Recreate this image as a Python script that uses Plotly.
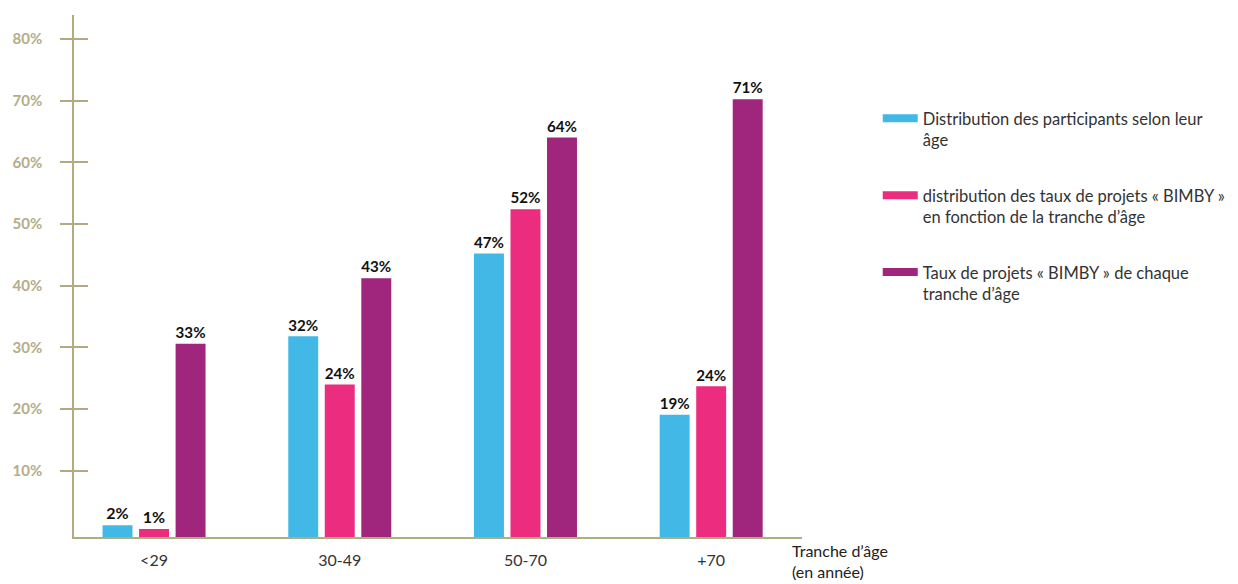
import plotly.graph_objects as go

# ---------- data ----------
age_groups = ["<29", "30-49", "50-70", "+70"]

participants = [1.9, 32.5, 45.9, 19.8]
bimby_share = [1.3, 24.7, 53.1, 24.4]
bimby_rate = [31.3, 41.9, 64.7, 70.9]

# printed labels
participants_txt = ["2%", "32%", "47%", "19%"]
bimby_share_txt = ["1%", "24%", "52%", "24%"]
bimby_rate_txt = ["33%", "43%", "64%", "71%"]

# the source draws its gridmarks slightly above the baseline
tick_shift = 0.7
tick_vals = [10 * k + tick_shift for k in range(1, 9)]
tick_text = [f"{10 * k}%" for k in range(1, 9)]

names = [
    "Distribution des participants selon leur<br>âge",
    "distribution des taux de projets « BIMBY »<br>en fonction de la tranche d’âge",
    "Taux de projets « BIMBY » de chaque<br>tranche d’âge",
]

colors = ["#41B8E6", "#EC2C7E", "#A0257C"]
FONT = "Lato, 'Open Sans', sans-serif"
AXIS_COL = "#B3AA84"
TICK_COL = "#B3AD88"

fig = go.Figure()

for vals, txt, col in zip([participants, bimby_share, bimby_rate],
                          [participants_txt, bimby_share_txt, bimby_rate_txt],
                          colors):
    fig.add_trace(go.Bar(
        x=age_groups, y=vals, text=txt,
        textposition="outside", cliponaxis=False,
        textfont=dict(family=FONT, size=16, color="#111", weight="bold"),
        marker=dict(color=col, line=dict(width=0)),
        showlegend=False, hoverinfo="skip",
    ))

# legend entries (wide flat swatches)
for i, (nm, col) in enumerate(zip(names, colors)):
    fig.add_trace(go.Scatter(
        x=[None], y=[None], mode="lines", name=nm,
        line=dict(color=col, width=8), legendgroup=f"g{i}",
    ))

# empty trace so the inner tick marks get drawn
fig.add_trace(go.Scatter(x=[], y=[], yaxis="y2", showlegend=False, hoverinfo="skip"))

y_range = [0, 84.55]

fig.update_layout(
    width=1238, height=584,
    paper_bgcolor="white", plot_bgcolor="white",
    margin=dict(l=74, r=436, t=15, b=47),
    barmode="group", bargap=0.41, bargroupgap=0.18,
    font=dict(family=FONT, size=15, color="#333"),
    showlegend=True,
    legend=dict(
        xref="container", yref="container", x=0.709, y=0.827,
        xanchor="left", yanchor="top", valign="top",
        font=dict(family=FONT, size=16.5, color="#333"),
        tracegroupgap=31, itemwidth=35, bgcolor="rgba(0,0,0,0)",
    ),
    xaxis=dict(
        range=[-0.431, 3.489], showline=True, linecolor="#A9B083", linewidth=1.5,
        ticks="", showgrid=False, zeroline=False, automargin=False,
        tickfont=dict(family=FONT, size=16, color="#333"),
        ticklabelstandoff=8,
    ),
    yaxis=dict(
        range=y_range, showline=True, linecolor=AXIS_COL, linewidth=1.5,
        tickvals=tick_vals, ticktext=tick_text, automargin=False,
        ticks="outside", ticklen=12, tickcolor=AXIS_COL, tickwidth=1.5,
        showgrid=False, zeroline=False,
        tickfont=dict(family=FONT, size=15, color=TICK_COL, weight="bold"),
        ticklabelstandoff=15,
    ),
    yaxis2=dict(
        range=y_range, overlaying="y", side="left", anchor="x",
        tickvals=tick_vals, showticklabels=False, automargin=False,
        ticks="inside", ticklen=14, tickcolor=AXIS_COL, tickwidth=1.5,
        showgrid=False, zeroline=False, showline=False,
    ),
    annotations=[dict(
        text="Tranche d’âge<br>(en année)", xref="paper", yref="paper",
        x=(790 - 74) / 728, y=0, xanchor="left", yanchor="top", yshift=-2,
        align="left", showarrow=False,
        font=dict(family=FONT, size=16, color="#222"),
    )],
)

# drop the page's default body margin so the figure sits at the window origin
fig.write_html("out.html", config={"displayModeBar": False},
               post_script="document.body.style.margin='0';")
